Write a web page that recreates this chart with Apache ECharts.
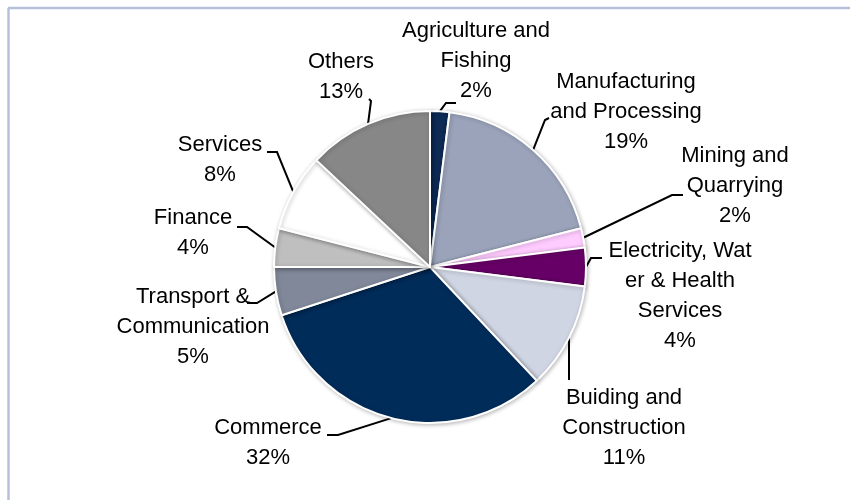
<!DOCTYPE html>
<html>
<head>
<meta charset="utf-8">
<script src="https://cdn.jsdelivr.net/npm/echarts@6/dist/echarts.min.js"></script>
<style>
  html, body { margin: 0; padding: 0; background: #ffffff; }
  #chart { width: 850px; height: 500px; }
</style>
</head>
<body>
<div id="chart"></div>
<script>
// Sector shares (%), clockwise from 12 o'clock
const sectors = [
  'Agriculture and\nFishing',
  'Manufacturing\nand Processing',
  'Mining and\nQuarrying',
  'Electricity, Wat\ner & Health\nServices',
  'Buiding and\nConstruction',
  'Commerce',
  'Transport &\nCommunication',
  'Finance',
  'Services',
  'Others'
];
const shares = [2, 19, 2, 4, 11, 32, 5, 4, 8, 13];
const sliceColors = [
  '#0D2B55', '#9AA3BA', '#FFCCFF', '#660066', '#D0D5E3',
  '#002C5A', '#80889A', '#BFBFBF', '#FFFFFF', '#878787'
];

// Label block centre and leader-line elbow/end for each sector
const labelPlacement = [
  { x: 476, y: 61,  elbow: [446, 103], end: [456, 103] },
  { x: 626, y: 112, elbow: [545, 120], end: [549, 118] },
  { x: 735, y: 186, elbow: [672, 195], end: [683, 195] },
  { x: 680, y: 296, elbow: [591, 258], end: [602, 258] },
  { x: 624, y: 428, elbow: [569, 360], end: [569, 380] },
  { x: 268, y: 443, elbow: [338, 435], end: [327, 435] },
  { x: 193, y: 327, elbow: [257, 303], end: [247, 303] },
  { x: 193, y: 233, elbow: [247, 227], end: [237, 227] },
  { x: 220, y: 160, elbow: [277, 152], end: [267, 152] },
  { x: 341, y: 77,  elbow: [371, 101], end: [369, 99] }
];

const chart = echarts.init(document.getElementById('chart'), null, { renderer: 'canvas' });

chart.setOption({
  backgroundColor: '#ffffff',
  animation: false,
  graphic: [
    { type: 'line', shape: { x1: 8, y1: 8, x2: 850, y2: 8 },
      style: { stroke: '#B7BFDB', lineWidth: 2.5 } },
    { type: 'line', shape: { x1: 8.5, y1: 8, x2: 8.5, y2: 500 },
      style: { stroke: '#B7BFDB', lineWidth: 2.5 } }
  ],
  series: [{
    type: 'pie',
    center: [430, 267],
    radius: [0, 156],
    startAngle: 90,
    clockwise: true,
    avoidLabelOverlap: false,
    data: sectors.map((name, i) => ({
      name: name,
      value: shares[i],
      itemStyle: { color: sliceColors[i] }
    })),
    itemStyle: {
      borderColor: '#ffffff',
      borderWidth: 2,
      shadowBlur: 4,
      shadowColor: 'rgba(0,0,0,0.25)',
      shadowOffsetX: 1,
      shadowOffsetY: 1
    },
    label: {
      show: true,
      formatter: p => p.name + '\n' + p.value + '%',
      fontFamily: 'Liberation Sans, Arial, sans-serif',
      fontSize: 22,
      lineHeight: 30,
      color: '#000000',
      align: 'center'
    },
    labelLine: {
      show: true,
      lineStyle: { color: '#000000', width: 2 }
    },
    labelLayout: function (params) {
      const pl = labelPlacement[params.dataIndex];
      const start = params.labelLinePoints ? params.labelLinePoints[0] : pl.elbow;
      return {
        x: pl.x,
        y: pl.y,
        align: 'center',
        verticalAlign: 'middle',
        labelLinePoints: [start, pl.elbow, pl.end]
      };
    },
    emphasis: { disabled: true }
  }]
});
</script>
</body>
</html>
